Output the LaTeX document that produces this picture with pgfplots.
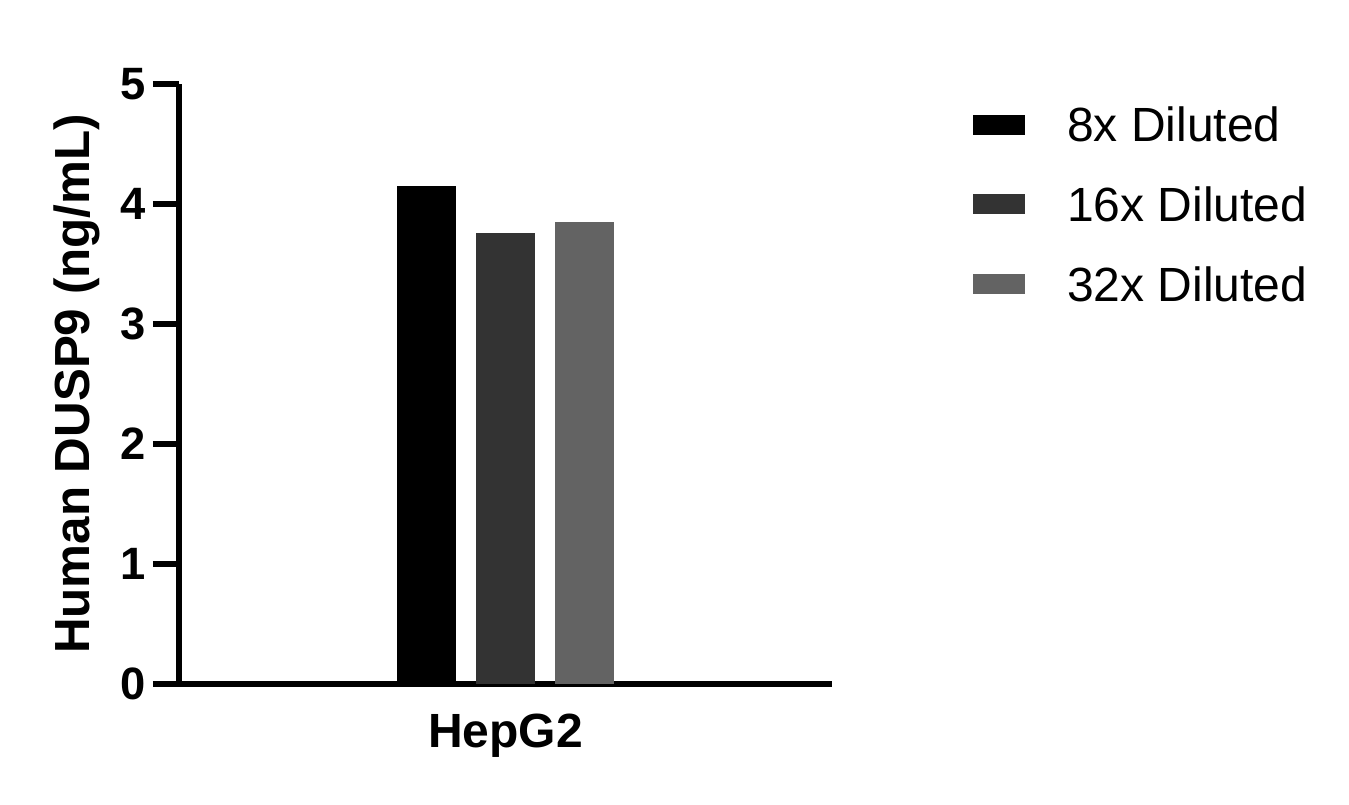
\documentclass[border=0pt]{standalone}
\usepackage{fontspec}
\setmainfont{Liberation Sans}
\usepackage{pgfplots}
\pgfplotsset{compat=1.18}
\definecolor{bA}{HTML}{000000}
\definecolor{bB}{HTML}{333333}
\definecolor{bC}{HTML}{636363}
\begin{document}
\begin{tikzpicture}
\useasboundingbox (0,0) rectangle (1011.75pt,603pt);
\begin{axis}[
  at={(134.25pt,90pt)}, anchor=south west,
  scale only axis, width=489.75pt, height=450pt,
  xmin=-1, xmax=1, ymin=0, ymax=5,
  axis lines=left,
  axis line style={-, line width=4pt, black},
  ytick={0,1,2,3,4,5},
  xtick={0}, xticklabels={HepG2},
  tick align=outside,
  major tick length=19.5pt,
  ytick style={line width=4pt, black},
  xtick style={draw=none},
  /pgf/number format/assume math mode=true,
  yticklabel style={font=\fontsize{34}{36}\selectfont\bfseries, inner sep=0pt, xshift=-5pt},
  xticklabel style={font=\fontsize{36}{40}\selectfont\bfseries, inner sep=0pt, yshift=-3pt},
  ylabel={Human DUSP9 (ng/mL)},
  ylabel style={font=\fontsize{37}{40}\selectfont\bfseries, at={(axis description cs:-0.156,0.5)}, anchor=center, inner sep=0pt},
  ybar=15pt, bar width=44.25pt,
  legend image code/.code={\fill (0pt,-3.75pt) rectangle (39pt,11.25pt);},
  legend cell align=left,
  legend style={draw=none, fill=none, at={(axis description cs:1.2159,0.962)}, anchor=north west,
    inner sep=0pt, column sep=31.5pt, row sep=25.8pt,
    font=\fontsize{36}{40}\selectfont,
    nodes={inner sep=0pt, text height=26pt, text depth=8pt}},
]
\addplot[fill=bA, draw=none] coordinates {(0,4.15)};
\addplot[fill=bB, draw=none] coordinates {(0,3.755)};
\addplot[fill=bC, draw=none] coordinates {(0,3.853)};
\legend{8x Diluted, 16x Diluted, 32x Diluted}
\end{axis}
\end{tikzpicture}
\end{document}
